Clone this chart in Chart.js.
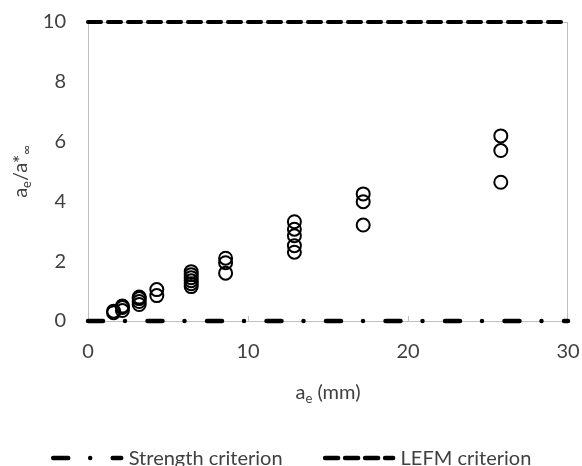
<!DOCTYPE html>
<html>
<head>
<meta charset="utf-8">
<script src="https://cdn.jsdelivr.net/npm/chart.js@4/dist/chart.umd.min.js"></script>
<style>
  body { margin: 0; background: #fff; }
  #wrap { width: 582px; height: 466px; }
</style>
</head>
<body>
<div id="wrap"><canvas id="aeChart" width="582" height="466"></canvas></div>
<script>
    // a_e groups (mm) and the measured a_e/a*_inf ratios at each one
    var groupX = [1.6, 2.15, 3.2, 4.3, 6.45, 8.6, 12.9, 17.2, 25.8];
    var groupY = [
        [0.28, 0.33],
        [0.35, 0.45, 0.5],
        [0.55, 0.65, 0.75, 0.8],
        [0.85, 1.05],
        [1.15, 1.25, 1.35, 1.45, 1.55, 1.65],
        [1.6, 1.95, 2.1],
        [2.3, 2.52, 2.85, 3.07, 3.32],
        [3.21, 3.99, 4.25],
        [4.64, 5.7, 6.19]
    ];
    // criterion lines
    var criterionX = [0, 30];
    var strengthY = [0, 0];
    var lefmY = [10, 10];

    var xTicks = [0, 10, 20, 30];
    var yTicks = [0, 2, 4, 6, 8, 10];

    var FONT = 'Lato, "Liberation Sans", sans-serif';
    var GREY = '#404040';

    var points = [];
    groupX.forEach(function(x, i) {
        groupY[i].forEach(function(y) { points.push({x: x, y: y}); });
    });
    function line(ys) {
        return criterionX.map(function(x, i) { return {x: x, y: ys[i]}; });
    }

    var strengthDash = [15, 22, 0, 22.5];
    var lefmDash = [13, 7];

    // frame, inner tick marks, axis titles with subscripts, legend
    var decor = {
        id: 'decor',
        beforeDatasetsDraw: function(chart) {
            var a = chart.chartArea, c = chart.ctx, xs = chart.scales.x;
            c.save();
            c.strokeStyle = '#bfbfbf';
            c.lineWidth = 1;
            c.strokeRect(a.left + 0.5, a.top + 0.5, a.right - a.left - 1, a.bottom - a.top);
            c.beginPath();
            xTicks.slice(1, -1).forEach(function(v) {
                var px = Math.round(xs.getPixelForValue(v)) + 0.5;
                c.moveTo(px, a.bottom);
                c.lineTo(px, a.bottom - 5);
            });
            c.stroke();
            c.restore();
        },
        afterDraw: function(chart) {
            var a = chart.chartArea, c = chart.ctx;
            c.save();
            c.fillStyle = GREY;
            c.textBaseline = 'alphabetic';
            c.textAlign = 'left';

            function runs(parts) {
                var w = 0;
                parts.forEach(function(p) { c.font = p.size + 'px ' + FONT; p.w = c.measureText(p.t).width; w += p.w; });
                return w;
            }
            function drawRuns(parts, x0, base) {
                var x = x0;
                parts.forEach(function(p) {
                    c.font = p.size + 'px ' + FONT;
                    c.fillText(p.t, x, base + (p.dy || 0));
                    x += p.w;
                });
            }

            // x title
            var xt = [{t: 'a', size: 20}, {t: 'e', size: 13, dy: 4}, {t: ' (mm)', size: 20}];
            var xw = runs(xt);
            drawRuns(xt, (a.left + a.right) / 2 - xw / 2, a.bottom + 78);

            // y title (rotated)
            var yt = [{t: 'a', size: 20}, {t: 'e', size: 13, dy: 4}, {t: '/a*', size: 20}, {t: '\u221e', size: 13, dy: 4}];
            var yw = runs(yt);
            c.save();
            c.translate(21, (a.top + a.bottom) / 2);
            c.rotate(-Math.PI / 2);
            drawRuns(yt, -yw / 2, 6);
            c.restore();

            // legend
            var items = [
                {label: 'Strength criterion', dash: strengthDash},
                {label: 'LEFM criterion', dash: lefmDash}
            ];
            var sample = 73, gapText = 5, gapItem = 40;
            c.font = '20px ' + FONT;
            var total = 0;
            items.forEach(function(it, i) {
                it.w = c.measureText(it.label).width;
                total += sample + gapText + it.w + (i ? gapItem : 0);
            });
            var x = (chart.width - total) / 2;
            var ly = 458;
            items.forEach(function(it) {
                c.save();
                c.strokeStyle = '#000';
                c.lineWidth = 4.5;
                c.lineCap = 'round';
                c.setLineDash(it.dash);
                c.beginPath();
                c.moveTo(x + 2.5, ly);
                c.lineTo(x + sample - 2.5, ly);
                c.stroke();
                c.restore();
                c.font = '20px ' + FONT;
                c.fillText(it.label, x + sample + gapText, ly + 7);
                x += sample + gapText + it.w + gapItem;
            });
            c.restore();
        }
    };

    var ctx = document.getElementById('aeChart').getContext('2d');
    var aeChart = new Chart(ctx, {
        type: 'scatter',
        data: {
            datasets: [{
                label: 'Data',
                data: points,
                pointStyle: 'circle',
                pointRadius: 6.5,
                pointBorderWidth: 2,
                pointBackgroundColor: 'rgba(0,0,0,0)',
                pointBorderColor: '#000',
                order: 1
            }, {
                type: 'line',
                label: 'Strength criterion',
                data: line(strengthY),
                borderColor: '#000',
                borderWidth: 4.5,
                borderDash: strengthDash,
                borderCapStyle: 'round',
                pointRadius: 0,
                clip: false,
                order: 2
            }, {
                type: 'line',
                label: 'LEFM criterion',
                data: line(lefmY),
                borderColor: '#000',
                borderWidth: 4,
                borderDash: lefmDash,
                borderCapStyle: 'round',
                pointRadius: 0,
                clip: false,
                order: 2
            }]
        },
        options: {
            responsive: false,
            animation: false,
            layout: { padding: { top: 22, right: 14, left: 0, bottom: 0 } },
            plugins: {
                legend: { display: false },
                tooltip: { enabled: false }
            },
            scales: {
                x: {
                    type: 'linear',
                    min: 0, max: 30,
                    afterFit: function(s) { s.height = 145; s.paddingLeft = 0; s.paddingRight = 0; },
                    afterBuildTicks: function(s) { s.ticks = xTicks.map(function(v) { return {value: v}; }); },
                    grid: { display: false, drawTicks: false },
                    border: { display: false },
                    ticks: { color: GREY, font: { family: FONT, size: 20 }, padding: 19, maxRotation: 0 }
                },
                y: {
                    type: 'linear',
                    min: 0, max: 10,
                    afterFit: function(s) { s.width = 88; s.paddingTop = 0; s.paddingBottom = 0; },
                    afterBuildTicks: function(s) { s.ticks = yTicks.map(function(v) { return {value: v}; }); },
                    grid: { display: false, drawTicks: false },
                    border: { display: false },
                    ticks: { color: GREY, font: { family: FONT, size: 20 }, padding: 22 }
                }
            }
        },
        plugins: [decor]
    });
</script>
</body>
</html>
